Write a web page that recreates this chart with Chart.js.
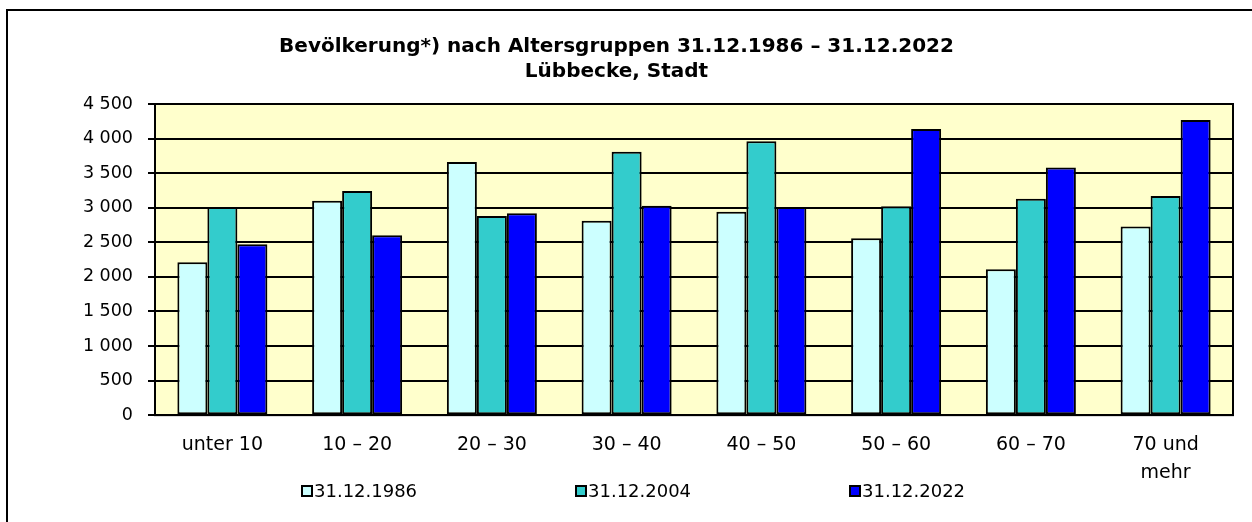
<!DOCTYPE html>
<html>
<head>
<meta charset="utf-8">
<script src="https://cdn.jsdelivr.net/npm/chart.js@4/dist/chart.umd.min.js"></script>
<style>
html,body{margin:0;padding:0;background:#fff;}
canvas{display:block;}
</style>
</head>
<body>
<canvas id="c" width="1252" height="522"></canvas>
<script>
const categories = ['unter 10', '10 – 20', '20 – 30', '30 – 40', '40 – 50', '50 – 60', '60 – 70', ['70 und', 'mehr']];
const seriesLabels = ['31.12.1986', '31.12.2004', '31.12.2022'];
const values1986 = [2210, 3100, 3660, 2810, 2940, 2560, 2110, 2730];
const values2004 = [3010, 3240, 2880, 3810, 3960, 3020, 3130, 3170];
const values2022 = [2470, 2600, 2920, 3030, 3010, 4140, 3580, 4270];
const yTicks = [0, 500, 1000, 1500, 2000, 2500, 3000, 3500, 4000, 4500];
const titleLines = ['Bevölkerung*) nach Altersgruppen 31.12.1986 – 31.12.2022', 'Lübbecke, Stadt'];

const colors = ['#CCFFFF', '#33CCCC', '#0000FF'];
const FONT = 'DejaVu Sans';

function fmt(v) {
  return String(v).replace(/\B(?=(\d{3})+(?!\d))/g, ' ');
}

const framePlugin = {
  id: 'frame',
  beforeDraw(chart) {
    const ctx = chart.ctx, a = chart.chartArea;
    ctx.save();
    ctx.fillStyle = '#FFFFCC';
    ctx.fillRect(a.left, a.top, a.right - a.left, a.bottom - a.top);
    ctx.strokeStyle = '#000';
    ctx.lineWidth = 2;
    ctx.strokeRect(7, 10, 1300, 600);
    ctx.restore();
  },
  afterDatasetsDraw(chart) {
    const ctx = chart.ctx, a = chart.chartArea;
    ctx.save();
    ctx.strokeStyle = '#000';
    ctx.lineWidth = 2;
    ctx.strokeRect(a.left, a.top, a.right - a.left, a.bottom - a.top);
    ctx.restore();
  }
};

const legendPlugin = {
  id: 'customLegend',
  afterDraw(chart) {
    const ctx = chart.ctx;
    const xs = [302, 576, 850];
    const y = 491;
    ctx.save();
    ctx.font = '18px "' + FONT + '"';
    ctx.textBaseline = 'middle';
    ctx.textAlign = 'left';
    chart.data.datasets.forEach((ds, i) => {
      const x = xs[i];
      ctx.fillStyle = ds.backgroundColor;
      ctx.fillRect(x, y - 5, 10, 10);
      ctx.strokeStyle = '#000';
      ctx.lineWidth = 2;
      ctx.strokeRect(x, y - 5, 10, 10);
      ctx.fillStyle = '#000';
      ctx.fillText(ds.label, x + 12, y + 1);
    });
    ctx.restore();
  }
};

const datasets = [values1986, values2004, values2022].map((vals, i) => ({
  label: seriesLabels[i],
  data: vals,
  backgroundColor: colors[i],
  borderColor: '#000',
  borderWidth: 2,
  borderSkipped: false,
  categoryPercentage: 0.668,
  barPercentage: 1.0
}));

Chart.defaults.color = '#000';
Chart.defaults.font.family = FONT;

new Chart(document.getElementById('c'), {
  type: 'bar',
  data: { labels: categories, datasets },
  options: {
    responsive: false,
    animation: false,
    devicePixelRatio: 1,
    layout: { padding: { left: 0, right: 19, top: 0, bottom: 19 } },
    plugins: {
      legend: { display: false },
      tooltip: { enabled: false },
      title: {
        display: true,
        text: titleLines,
        color: '#000',
        font: { family: FONT, size: 20, weight: 'bold', lineHeight: 1.25 },
        padding: { top: 34, bottom: 20 }
      }
    },
    scales: {
      x: {
        grid: { display: false, drawTicks: false },
        border: { display: true, color: '#000', width: 2 },
        ticks: {
          padding: 16,
          maxRotation: 0,
          autoSkip: false,
          font: { family: FONT, size: 19, lineHeight: 1.47 },
          color: '#000'
        }
      },
      y: {
        min: 0,
        max: 4500,
        afterFit(s) { s.width = 155; },
        afterBuildTicks(s) { s.ticks = yTicks.map(v => ({ value: v })); },
        grid: { color: '#000', lineWidth: 2, tickLength: 7, drawTicks: true },
        border: { display: true, color: '#000', width: 2 },
        ticks: {
          padding: 15,
          font: { family: FONT, size: 17.5 },
          color: '#000',
          callback: v => fmt(v)
        }
      }
    }
  },
  plugins: [framePlugin, legendPlugin]
});
</script>
</body>
</html>
